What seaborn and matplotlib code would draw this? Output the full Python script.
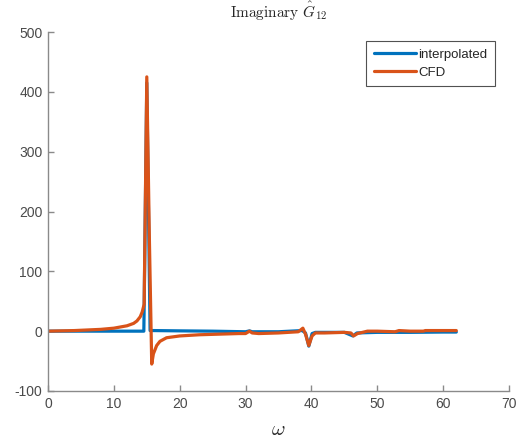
import numpy as np
import pandas as pd
import seaborn as sns
import matplotlib
matplotlib.use("Agg")
import matplotlib.pyplot as plt

# Imaginary part of G12 versus frequency
omega_interp = [0, 5, 10, 14.55, 14.6, 15.0, 15.5, 16, 20, 25, 30, 30.6, 31, 35,
                38.6, 39.1, 39.6, 40.1, 40.6, 45, 46.3, 46.9, 50, 55, 60, 62]
g12_interp = [0, 0, 0, 0, 40, 415, 1, 1, 0.5, 0, -1, 0.5, -1, -1,
              1, -3, -25, -4, -2, -2, -8, -3, -2, -2, -1.5, -1.5]

omega_cfd = [0, 2, 4, 6, 8, 10, 11, 12, 13, 13.5, 14, 14.3, 14.6, 15.0, 15.4,
             15.75, 16.0, 16.5, 17, 18, 20, 23, 26, 29, 30, 30.6, 31, 32, 35, 38,
             38.7, 39.1, 39.6, 40.1, 40.6, 42, 45, 46, 46.4, 47, 48.5, 50, 52.7,
             53.3, 55, 57, 57.3, 60, 62]
g12_cfd = [0, 0.5, 1, 2, 3, 5, 7, 9, 13, 17, 24, 32, 45, 425, 150,
           -55, -38, -24, -17, -11, -8, -6, -5, -4, -4, 0, -3, -4, -3, -1,
           5, -5, -24, -8, -3, -3, -2, -3, -8, -4, 0, 0, -1,
           1, 0, 0, 1, 1, 1]

xticks = [0, 10, 20, 30, 40, 50, 60, 70]
yticks = [-100, 0, 100, 200, 300, 400, 500]

sns.set_theme(style="white")
plt.rcParams["font.family"] = ["Liberation Sans", "DejaVu Sans"]
plt.rcParams["mathtext.fontset"] = "cm"

fig = plt.figure(figsize=(5.23, 4.41), dpi=100)
ax = fig.add_axes([0.0918, 0.1134, 0.8814, 0.814])

df_i = pd.DataFrame({"omega": omega_interp, "g": g12_interp})
df_c = pd.DataFrame({"omega": omega_cfd, "g": g12_cfd})
sns.lineplot(data=df_i, x="omega", y="g", ax=ax, color="#0072BD", lw=2.3,
             label="interpolated", sort=False, estimator=None)
sns.lineplot(data=df_c, x="omega", y="g", ax=ax, color="#D95319", lw=2.3,
             label="CFD", sort=False, estimator=None)

ax.set_xlim(0, 70)
ax.set_ylim(-100, 500)
ax.set_xticks(xticks)
ax.set_yticks(yticks)
ax.set_xticklabels([str(t) for t in xticks])
ax.set_yticklabels([str(t) for t in yticks])

axis_gray = "#8a8a8a"
label_gray = "#4a4a4a"
for side in ["top", "right"]:
    ax.spines[side].set_visible(False)
for side in ["left", "bottom"]:
    ax.spines[side].set_color(axis_gray)
    ax.spines[side].set_linewidth(1.0)
ax.tick_params(axis="both", which="both", direction="in", length=4, width=1.0,
               colors=axis_gray, labelsize=10, labelcolor=label_gray,
               bottom=True, left=True, pad=4)

ax.set_xlabel(r"$\omega$", fontsize=15, color="#262626", labelpad=7)
ax.set_ylabel("")
ax.set_title(r"$\mathrm{Imaginary}\ \hat{G}_{12}$", fontsize=11, color="#262626", pad=10)

leg = ax.legend(loc="upper right", bbox_to_anchor=(0.978, 0.985), fontsize=9.5,
                frameon=True, fancybox=False, edgecolor="#262626",
                handlelength=3.2, handletextpad=0.2, borderpad=0.55,
                labelspacing=0.45, borderaxespad=0.3)
leg.get_frame().set_linewidth(0.8)
for t in leg.get_texts():
    t.set_color("#262626")

fig.savefig("out.png", dpi=100)
